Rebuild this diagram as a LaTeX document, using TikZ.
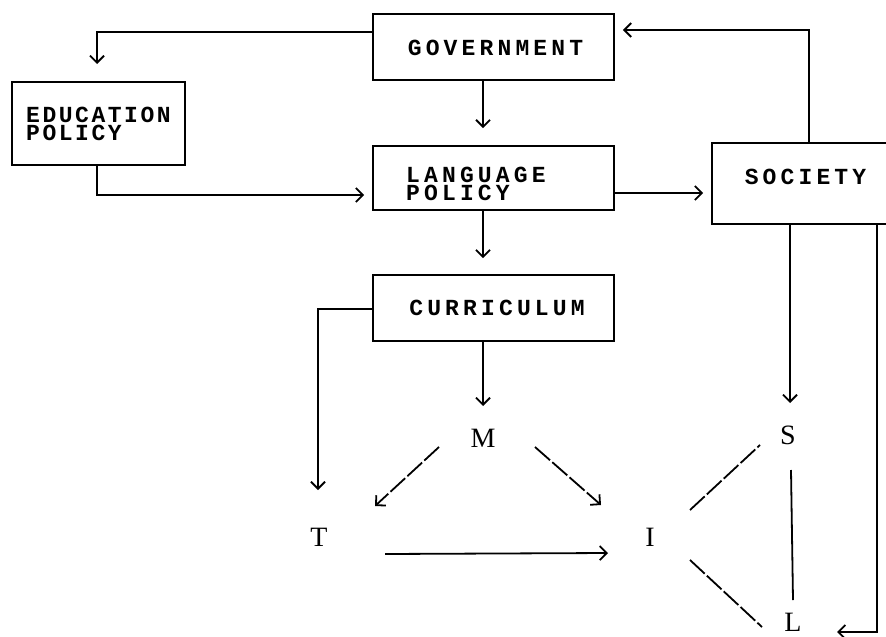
\documentclass[tikz,border=0pt]{standalone}
\usepackage{fontspec}
\usetikzlibrary{arrows.meta}
\newfontfamily\boxfont[LetterSpace=18]{Liberation Mono}
\newfontfamily\boxfontn[LetterSpace=11]{Liberation Mono}
\newfontfamily\letterfont{Liberation Serif}
\tikzset{
  box/.style={draw, line width=1.9pt, inner sep=0pt},
  lbl/.style={font=\boxfont\bfseries\fontsize{23}{18.5}\selectfont, align=left, inner sep=0pt},
  lbln/.style={font=\boxfontn\bfseries\fontsize{23}{18.5}\selectfont, align=left, inner sep=0pt},
  letter/.style={font=\letterfont\fontsize{28}{28}\selectfont, inner sep=0pt},
  conn/.style={line width=1.8pt, -{Straight Barb[length=7pt,width=14pt,line width=1.8pt]}},
  plain/.style={line width=1.8pt},
  dashline/.style={dash pattern=on 20pt off 3pt}
}
\begin{document}
\begin{tikzpicture}[x=1pt,y=-1pt]
\useasboundingbox (0,0) rectangle (886,637);
\fill[white] (0,0) rectangle (886,637);
% boxes
\node[box, minimum width=241pt, minimum height=66pt] (gov) at (493.5,47) {};
\node[box, minimum width=173pt, minimum height=83pt] (edu) at (98.5,123.5) {};
\node[box, minimum width=241pt, minimum height=64pt] (lang) at (493.5,178) {};
\node[box, minimum width=178pt, minimum height=81pt] (soc) at (801,183.5) {};
\node[box, minimum width=241pt, minimum height=66pt] (cur) at (493.5,308) {};
% box labels
\node[lbl] (govt) at (495.5,48) {GOVERNMENT};
\node[lbln, anchor=west] (edut) at (26,124) {EDUCATION\\POLICY};
\node[lbl, anchor=west] (langt) at (406,184) {LANGUAGE\\POLICY};
\node[lbl] (soct) at (805.5,177) {SOCIETY};
\node[lbl] (curt) at (497,308) {CURRICULUM};
% letters
\node[letter] (M) at (483,438) {M};
\node[letter] (T) at (319,537) {T};
\node[letter] (I) at (650,537) {I};
\node[letter] (S) at (788,435) {S};
\node[letter] (L) at (793,622) {L};
\coordinate (e1) at (97,64);
% connectors
\draw[conn] ([shift={(0,-15)}]gov.west) -| (e1);
\draw[conn] ([shift={(-10.5,0)}]gov.south) -- ([shift={(-10.5,-17)}]lang.north);
\draw[conn] ([shift={(-1.5,0)}]edu.south) |- ([shift={(-8,17)}]lang.west);
\draw[conn] ([shift={(0,15)}]lang.east) -- ([shift={(-8,9.5)}]soc.west);
\draw[conn] ([shift={(8,0)}]soc.north) |- ([shift={(8,-17)}]gov.east);
\draw[conn] ([shift={(-10.5,0)}]lang.south) -- ([shift={(-10.5,-16)}]cur.north);
\draw[conn] ([shift={(0,1)}]cur.west) -| ([shift={(-1,-47)}]T.center);
\draw[conn] ([shift={(-10.5,0)}]cur.south) -- ([shift={(0,-32)}]M.center);
\draw[conn, dashline] ([shift={(-44,9)}]M.center) -- ([shift={(56,-31)}]T.center);
\draw[conn, dashline] ([shift={(52,9)}]M.center) -- ([shift={(-49,-32)}]I.center);
\draw[conn] ([shift={(66,17)}]T.center) -- ([shift={(-42,16)}]I.center);
\draw[plain, dashline] ([shift={(40,-27)}]I.center) -- ([shift={(-28,10)}]S.center);
\draw[plain, dashline] ([shift={(40,23)}]I.center) -- ([shift={(-31,5)}]L.center);
\draw[plain] ([shift={(3,35)}]S.center) -- ([shift={(0,-22)}]L.center);
\draw[conn] ([shift={(-11,0)}]soc.south) -- ([shift={(2,-32)}]S.center);
\draw[conn] ([shift={(76,0)}]soc.south) |- ([shift={(44,10)}]L.center);
\end{tikzpicture}
\end{document}
